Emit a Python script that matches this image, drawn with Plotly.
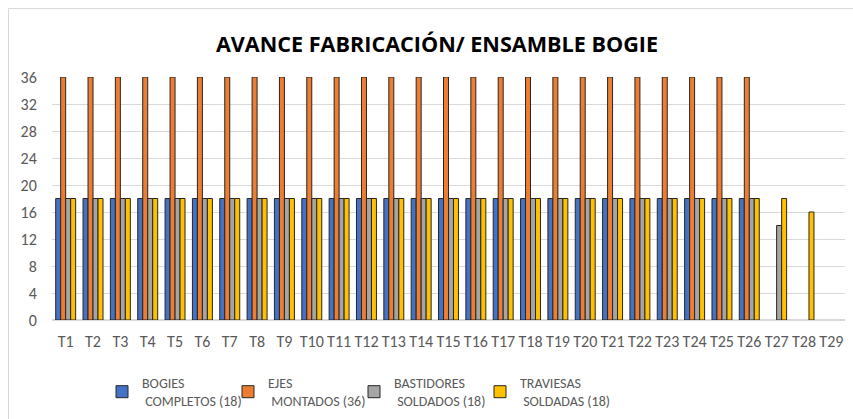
import plotly.graph_objects as go

categories = [f"T{i}" for i in range(1, 30)]
bogies = [18] * 26 + [None, None, None]
ejes = [36] * 26 + [None, None, None]
bastidores = [18] * 26 + [14, None, None]
traviesas = [18] * 26 + [18, 16, None]

series_names = [
    "BOGIES<br>\u00a0COMPLETOS (18)",
    "EJES<br>\u00a0MONTADOS (36)",
    "BASTIDORES<br>\u00a0SOLDADOS (18)",
    "TRAVIESAS<br>\u00a0SOLDADAS (18)",
]
series_values = [bogies, ejes, bastidores, traviesas]
colors = ["#4472C4", "#ED7D31", "#A5A5A5", "#FFC000"]

FONT = "Carlito, Liberation Sans Narrow, Liberation Sans, Arial, sans-serif"
TITLE_FONT = "Open Sans, Liberation Sans, Arial, sans-serif"

fig = go.Figure()
for name, vals, col in zip(series_names, series_values, colors):
    fig.add_trace(go.Bar(
        x=categories, y=vals, name=name,
        marker=dict(color=col, line=dict(color="#262626", width=1)),
    ))
# invisible spacer legend entry so the last legend label is not clipped
fig.add_trace(go.Scatter(x=[None], y=[None], mode="lines", name="\u00a0",
                         line=dict(color="rgba(0,0,0,0)"), hoverinfo="skip"))

W, H = 853, 419
L, R, T, B = 52, 8, 77, 99
pw, ph = W - L - R, H - T - B

def px_x(x):
    return (x - L) / pw

def px_y(y):
    return (H - B - y) / ph

fig.add_shape(type="rect", xref="paper", yref="paper",
              x0=px_x(8.5), x1=px_x(870), y0=px_y(440), y1=px_y(8.5),
              line=dict(color="#D9D9D9", width=1), fillcolor="rgba(0,0,0,0)", layer="below")

fig.update_layout(
    width=W, height=H,
    margin=dict(l=L, r=R, t=T, b=B, autoexpand=False),
    paper_bgcolor="white", plot_bgcolor="white",
    barmode="group", bargap=0.27, bargroupgap=0,
    font=dict(family=FONT, color="#595959", size=14),
    title=dict(text="<b>AVANCE FABRICACIÓN/ ENSAMBLE BOGIE</b>",
               x=(437) / W, xanchor="center", y=1 - 44 / H, yanchor="middle",
               font=dict(size=21.6, color="#000000", family=TITLE_FONT)),
    xaxis=dict(showgrid=False, showline=False, ticks="outside", ticklen=7, tickcolor="rgba(0,0,0,0)",
               automargin=False, tickfont=dict(size=16, color="#595959")),
    yaxis=dict(range=[0, 36], tickvals=list(range(0, 37, 4)), showgrid=True,
               gridcolor="#D9D9D9", gridwidth=1, zeroline=True, zerolinecolor="#D9D9D9",
               showline=False, ticks="outside", ticklen=11, tickcolor="rgba(0,0,0,0)",
               automargin=False, tickfont=dict(size=16, color="#595959")),
    legend=dict(orientation="h", x=px_x(102), xanchor="left", y=px_y(367), yanchor="top",
                entrywidth=81, entrywidthmode="pixels", traceorder="normal",
                font=dict(size=14, color="#595959", family=FONT), itemwidth=30),
    showlegend=True,
)

fig.write_html("out.html", config={"displayModeBar": False},
               post_script="document.body.style.margin='0px';document.body.style.padding='0px';")
